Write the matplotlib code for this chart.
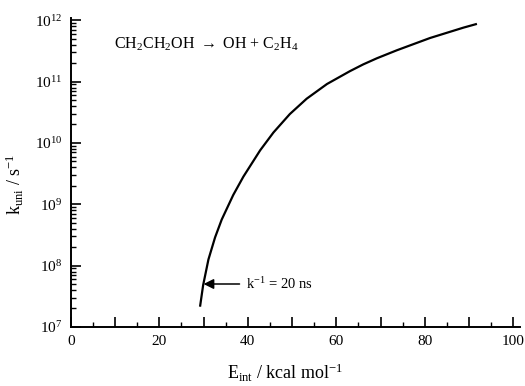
import numpy as np
import matplotlib
matplotlib.use("Agg")
import matplotlib.pyplot as plt
from matplotlib.ticker import MultipleLocator, LogLocator, FuncFormatter

plt.rcParams['font.family'] = ['Liberation Serif', 'DejaVu Serif']
plt.rcParams['mathtext.fontset'] = 'custom'
plt.rcParams['mathtext.rm'] = 'Liberation Serif'
plt.rcParams['mathtext.it'] = 'Liberation Serif:italic'
plt.rcParams['mathtext.bf'] = 'Liberation Serif:bold'

# curve: internal energy (kcal/mol) and log10 k_uni
e_int = [29.2, 29.9, 31.1, 32.6, 34.1, 36.7, 39.0, 42.8, 45.8, 49.5,
         53.3, 57.9, 63.1, 66.1, 69.2, 73.7, 81.2, 88.8, 91.8]
log_k = [7.33, 7.68, 8.10, 8.46, 8.75, 9.15, 9.45, 9.88, 10.17, 10.47,
         10.72, 10.96, 11.17, 11.28, 11.38, 11.51, 11.71, 11.88, 11.94]

x_ticks = [0, 20, 40, 60, 80, 100]
reaction = r"CH$_2$CH$_2$OH $\rightarrow$ OH + C$_2$H$_4$"
note = r"k$^{-1}$ = 20 ns"
note_x = 30.0
note_k = 10 ** 7.70

fig = plt.figure(figsize=(5.25, 3.86), dpi=100)
ax = fig.add_axes([0.135, 0.153, 0.856, 0.801])

ax.plot(e_int, 10 ** np.array(log_k), color='black', lw=1.6,
        solid_capstyle='butt', solid_joinstyle='round')

ax.set_yscale('log')
ax.set_xlim(0, 101.6)
ax.set_ylim(1e7, 10 ** 12.04)

ax.spines['top'].set_visible(False)
ax.spines['right'].set_visible(False)
ax.spines['left'].set_linewidth(1.4)
ax.spines['bottom'].set_linewidth(1.4)

ax.xaxis.set_major_locator(MultipleLocator(10))
ax.xaxis.set_minor_locator(MultipleLocator(5))
ax.xaxis.set_major_formatter(FuncFormatter(
    lambda v, p: "%d" % v if int(round(v)) in x_ticks else ""))
ax.yaxis.set_major_locator(LogLocator(base=10, numticks=10))
ax.yaxis.set_minor_locator(LogLocator(base=10, subs=np.arange(2, 10), numticks=20))
ax.yaxis.set_major_formatter(FuncFormatter(
    lambda v, p: r"10$^{%d}$" % int(round(np.log10(v)))))

ax.tick_params(which='major', direction='in', length=7, width=1.2,
               labelsize=11, pad=6)
ax.tick_params(which='minor', direction='in', length=3.5, width=1.0)

ax.set_xlabel(r"E$_{\rm int}$ / kcal mol$^{-1}$", fontsize=13)
ax.xaxis.set_label_coords(0.477, -0.112)
ax.set_ylabel(r"k$_{\rm uni}$ / s$^{-1}$", fontsize=13)
ax.yaxis.set_label_coords(-0.10, 0.46)

ax.text(9.7, 10 ** 11.6, reaction, fontsize=11.5, va='center', ha='left')

ax.annotate(note, xy=(note_x, note_k), xytext=(39.7, note_k),
            fontsize=10.5, va='center', ha='left',
            arrowprops=dict(arrowstyle='-|>', color='black', lw=1.1,
                            mutation_scale=15, shrinkA=3, shrinkB=0))

fig.savefig("out.png", dpi=100)
